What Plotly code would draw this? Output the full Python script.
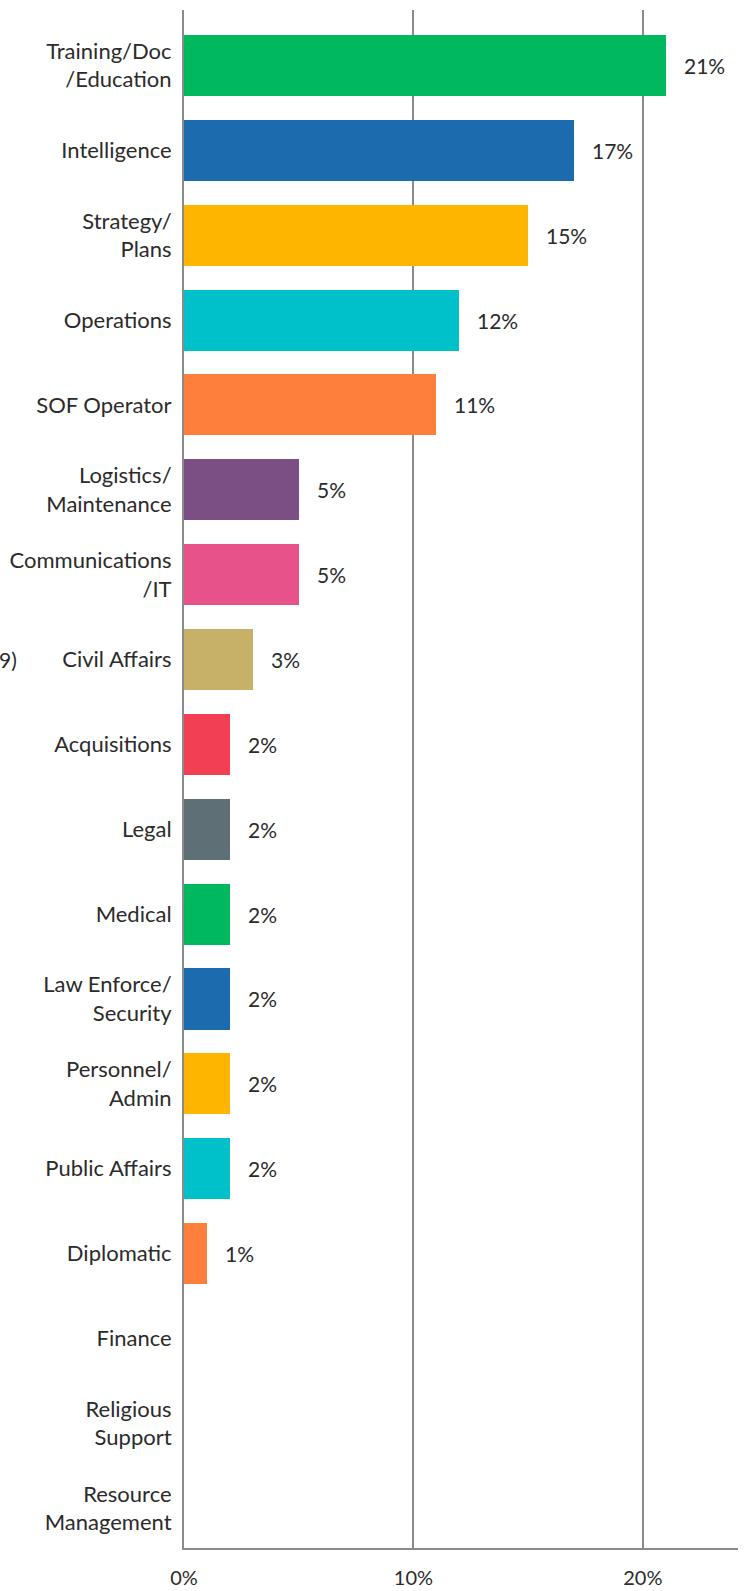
import plotly.graph_objects as go

# Share of respondents by functional area
categories = [
    "Training/Doc<br>/Education", "Intelligence", "Strategy/<br>Plans", "Operations",
    "SOF Operator", "Logistics/<br>Maintenance", "Communications<br>/IT", "Civil Affairs",
    "Acquisitions", "Legal", "Medical", "Law Enforce/<br>Security", "Personnel/<br>Admin",
    "Public Affairs", "Diplomatic", "Finance", "Religious<br>Support", "Resource<br>Management",
]
values = [21, 17, 15, 12, 11, 5, 5, 3, 2, 2, 2, 2, 2, 2, 1, 0, 0, 0]
colors = [
    "#00B85E", "#1B6BAE", "#FDB500", "#00C1C9", "#FE7F3C", "#7B4F84", "#E8528A",
    "#C7B068", "#F33F53", "#5F6F76", "#00B85E", "#1B6BAE", "#FDB500", "#00C1C9",
    "#FE7F3C", "#00B85E", "#1B6BAE", "#FDB500",
]
x_ticks = [0, 10, 20]
x_tick_labels = ["0%", "10%", "20%"]

FONT = "Lato"
TEXT = "#2b2b2b"
AXIS = "#8a8a8a"
SIZE = 22

idx = list(range(len(categories)))

fig = go.Figure(
    go.Bar(
        x=values,
        y=idx,
        orientation="h",
        width=0.72,
        marker=dict(color=colors, line=dict(width=0)),
        hoverinfo="skip",
    )
)

# value labels to the right of each non-empty bar
for i, v in zip(idx, values):
    if v > 0:
        fig.add_annotation(
            x=v, y=i, text=f"{v}%", showarrow=False,
            xanchor="left", xshift=16,
            font=dict(family=FONT, size=SIZE - 1, color=TEXT),
        )

PLOT_L, PLOT_R = 184, 738
fig.add_annotation(
    xref="paper", yref="y", x=(19 - PLOT_L) / (PLOT_R - PLOT_L), y=7,
    text="9)", showarrow=False, xanchor="right",
    font=dict(family=FONT, size=SIZE - 1, color=TEXT),
)

fig.update_layout(
    width=744,
    height=1591,
    margin=dict(l=PLOT_L, r=744 - PLOT_R, t=10, b=43, autoexpand=False),
    paper_bgcolor="white",
    plot_bgcolor="white",
    showlegend=False,
    bargap=0,
    xaxis=dict(
        range=[0, 24.15],
        tickvals=x_ticks,
        ticktext=x_tick_labels,
        showgrid=True,
        gridcolor=AXIS,
        gridwidth=2,
        zeroline=False,
        showline=True,
        linecolor=AXIS,
        linewidth=2,
        ticks="",
        ticklabelstandoff=11,
        automargin=False,
        tickfont=dict(family=FONT, size=20, color=TEXT),
        fixedrange=True,
    ),
    yaxis=dict(
        range=[17.47, -0.654],
        tickvals=idx,
        ticktext=categories,
        showgrid=False,
        zeroline=False,
        showline=True,
        linecolor=AXIS,
        linewidth=2,
        ticks="",
        ticklabelstandoff=6,
        automargin=False,
        tickfont=dict(family=FONT, size=SIZE, color=TEXT),
        fixedrange=True,
    ),
)

fig.write_html("out.html")
